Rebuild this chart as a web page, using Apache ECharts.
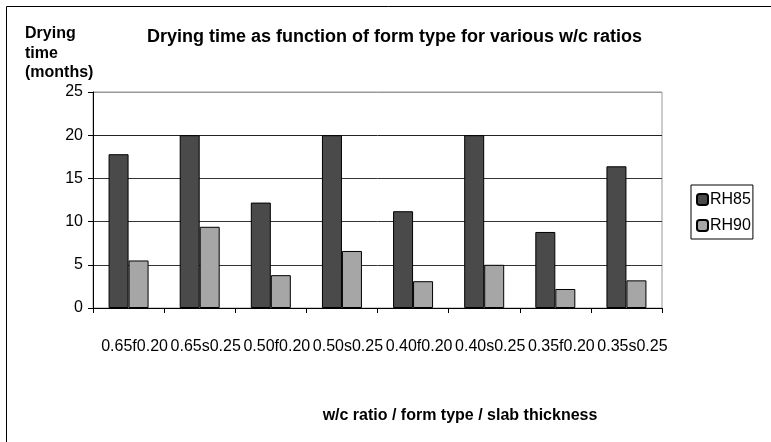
<!DOCTYPE html>
<html>
<head>
<meta charset="utf-8">
<script src="https://cdn.jsdelivr.net/npm/echarts@6/dist/echarts.min.js"></script>
<style>
  html, body { margin: 0; padding: 0; background: #fff; }
  #main { width: 771px; height: 442px; }
</style>
</head>
<body>
<div id="main"></div>
<script>
// categories: w/c ratio + form type (f/s) + slab thickness
var categories = ['0.65f0.20', '0.65s0.25', '0.50f0.20', '0.50s0.25', '0.40f0.20', '0.40s0.25', '0.35f0.20', '0.35s0.25'];
var seriesNames = ['RH85', 'RH90'];
var rh85 = [17.8, 20, 12.2, 20, 11.2, 20, 8.8, 16.4];
var rh90 = [5.5, 9.4, 3.8, 6.6, 3.1, 5.0, 2.2, 3.2];
var yTicks = [0, 5, 10, 15, 20, 25];

var font = 'Liberation Sans, Arial, sans-serif';
var myChart = echarts.init(document.getElementById('main'));

var option = {
    backgroundColor: '#fff',
    animation: false,
    title: {
        text: 'Drying time as function of form type for various w/c ratios',
        left: 142,
        top: 23,
        textStyle: { fontFamily: font, fontWeight: 'bold', fontSize: 18, color: '#000' }
    },
    legend: {
        orient: 'vertical',
        left: 691,
        top: 185,
        data: seriesNames,
        padding: [6, 2, 5, 5],
        borderColor: '#000',
        borderWidth: 1,
        itemWidth: 11,
        itemHeight: 11,
        itemGap: 9,
        textStyle: { fontFamily: font, fontSize: 16, color: '#000', lineHeight: 17, padding: [0, 0, 0, -3] }
    },
    grid: {
        left: 93,
        right: 109,
        top: 92,
        bottom: 134,
        show: true,
        borderColor: '#999',
        borderWidth: 1
    },
    xAxis: {
        type: 'category',
        data: categories,
        axisLine: { lineStyle: { color: '#000', width: 1 } },
        axisTick: { show: true, length: 5, interval: 0, lineStyle: { color: '#000' } },
        axisLabel: {
            interval: 0,
            margin: 31,
            padding: [0, 0, 0, 12],
            fontFamily: font,
            fontSize: 16,
            color: '#000'
        }
    },
    yAxis: {
        type: 'value',
        min: yTicks[0],
        max: yTicks[yTicks.length - 1],
        interval: 5,
        axisLine: { show: true, lineStyle: { color: '#000', width: 1 } },
        axisTick: { show: true, length: 5, lineStyle: { color: '#000' } },
        axisLabel: { margin: 10, fontFamily: font, fontSize: 16, color: '#000' },
        splitLine: {
            show: true,
            lineStyle: { color: ['#000', '#333', '#333', '#333', '#222', '#999'], width: 1 }
        }
    },
    series: [{
        name: seriesNames[0],
        type: 'bar',
        data: rh85,
        barWidth: 20,
        barGap: '0%',
        itemStyle: { color: '#4a4a4a', borderColor: '#000', borderWidth: 1 }
    }, {
        name: seriesNames[1],
        type: 'bar',
        data: rh90,
        barWidth: 20,
        barGap: '0%',
        itemStyle: { color: '#a6a6a6', borderColor: '#000', borderWidth: 1 }
    }],
    graphic: [{
        type: 'text',
        left: 25,
        top: 24,
        style: {
            text: 'Drying\ntime\n(months)',
            font: 'bold 16px ' + font,
            lineHeight: 19.5,
            fill: '#000'
        }
    }, {
        type: 'text',
        x: 460,
        y: 416,
        style: {
            text: 'w/c ratio / form type / slab thickness',
            font: 'bold 16px ' + font,
            align: 'center',
            verticalAlign: 'middle',
            fill: '#000'
        }
    }, {
        type: 'line',
        shape: { x1: 6.5, y1: 6.5, x2: 771, y2: 6.5 },
        style: { stroke: '#000', lineWidth: 1 }
    }, {
        type: 'line',
        shape: { x1: 6.5, y1: 6.5, x2: 6.5, y2: 442 },
        style: { stroke: '#000', lineWidth: 1 }
    }]
};

myChart.setOption(option);
</script>
</body>
</html>
